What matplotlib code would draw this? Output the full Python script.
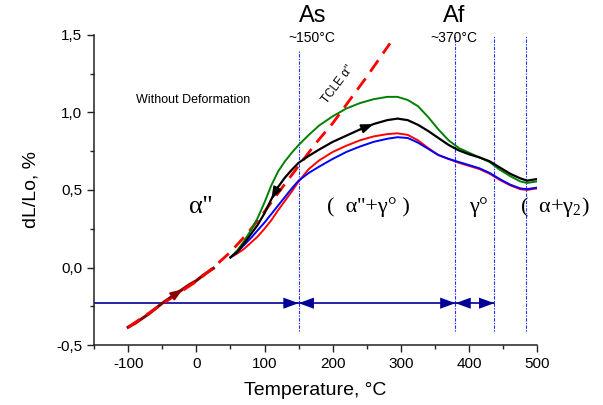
import matplotlib
matplotlib.use("Agg")
import matplotlib.pyplot as plt
from matplotlib.ticker import FixedLocator, MultipleLocator

plt.rcParams['font.family'] = ['Liberation Sans', 'DejaVu Sans']
plt.rcParams['mathtext.fontset'] = 'custom'
plt.rcParams['mathtext.rm'] = 'Liberation Serif'

# ---- dilatometric heating curves (temperature, °C -> dL/Lo, %) ----
temp_heat = [50, 60, 70, 80, 90, 100, 110, 120, 130, 140, 150, 165, 180, 200,
             220, 240, 260, 280, 295, 310, 325, 340, 355, 370, 385, 400, 415,
             430, 445, 460, 475, 485, 492, 500]
green_curve = [0.065, 0.11, 0.17, 0.24, 0.32, 0.42, 0.53, 0.62, 0.685, 0.74, 0.79,
               0.855, 0.915, 0.975, 1.025, 1.06, 1.085, 1.10, 1.10, 1.08, 1.04, 0.97,
               0.89, 0.82, 0.77, 0.74, 0.71, 0.68, 0.63, 0.59, 0.555, 0.545,
               0.55, 0.555]
black_curve = [0.065, 0.10, 0.155, 0.215, 0.275, 0.35, 0.44, 0.52, 0.58, 0.63, 0.675,
               0.72, 0.76, 0.81, 0.85, 0.89, 0.925, 0.95, 0.96, 0.95, 0.92, 0.88,
               0.835, 0.79, 0.755, 0.73, 0.71, 0.685, 0.645, 0.605, 0.575, 0.56,
               0.565, 0.57]
red_curve = [0.065, 0.09, 0.12, 0.16, 0.20, 0.25, 0.305, 0.37, 0.43, 0.49, 0.555,
             0.635, 0.69, 0.745, 0.785, 0.82, 0.845, 0.86, 0.865, 0.855, 0.82, 0.77,
             0.725, 0.70, 0.675, 0.655, 0.635, 0.605, 0.565, 0.53, 0.505, 0.50,
             0.505, 0.51]
blue_curve = [0.065, 0.10, 0.145, 0.19, 0.24, 0.29, 0.345, 0.40, 0.455, 0.51, 0.56,
              0.61, 0.65, 0.70, 0.745, 0.78, 0.81, 0.83, 0.84, 0.835, 0.805, 0.765,
              0.725, 0.70, 0.68, 0.66, 0.64, 0.61, 0.57, 0.535, 0.51, 0.505,
              0.51, 0.515]

# low-temperature segment of the sample
temp_low = [-100, -90, -80, -70, -60, -50, -40, -30, -20, -10, 0, 10, 20, 25]
low_curve = [-0.385, -0.36, -0.33, -0.30, -0.265, -0.23, -0.20, -0.17, -0.14,
             -0.11, -0.085, -0.05, -0.02, -0.005]

# thermal coefficient of linear expansion of alpha''
temp_tcle = [-100, -50, 0, 25, 50, 75, 100, 125, 150, 175, 200, 225, 250, 284]
tcle_line = [-0.385, -0.235, -0.09, 0.0, 0.10, 0.22, 0.36, 0.51, 0.655, 0.80,
             0.93, 1.08, 1.23, 1.445]

# phase boundaries
phase_bounds = [150, 380, 437, 484]
arrow_level = -0.23

x_ticks = [-100, 0, 100, 200, 300, 400, 500]
y_ticks = [-0.5, 0.0, 0.5, 1.0, 1.5]
y_labels = ['-0,5', '0,0', '0,5', '1,0', '1,5']

fig = plt.figure(figsize=(6.03, 4.05), dpi=100)
ax = fig.add_axes([0.156, 0.148, 0.735, 0.766])
ax.set_xlim(-150, 500)
ax.set_ylim(-0.5, 1.5)

# phase boundary lines
for i, xb in enumerate(phase_bounds):
    top = 1.40 if i == 0 else 1.49
    ax.plot([xb, xb], [-0.41, top], color='#2030ff', lw=0.8,
            ls=(0, (1.2, 1.2, 3, 1.2)), zorder=1)

# curves
ax.plot(temp_low, low_curve, color='#8b0000', lw=2.2, zorder=3)
ax.plot(temp_tcle, tcle_line, color='#ff0000', lw=2.0, ls=(0, (5, 3)), zorder=4)
ax.plot(temp_heat, red_curve, color='#ff0000', lw=1.4, zorder=5)
ax.plot(temp_heat, blue_curve, color='#0000ff', lw=1.4, zorder=6)
ax.plot(temp_heat, green_curve, color='#008000', lw=1.4, zorder=5)
ax.plot(temp_heat, black_curve, color='black', lw=1.6, zorder=7)

# direction arrows on curves
def along(xs, ys, i0, i1, color):
    ax.annotate('', xy=(xs[i1], ys[i1]), xytext=(xs[i0], ys[i0]),
                arrowprops=dict(arrowstyle='-|>,head_length=0.75,head_width=0.28',
                                color=color, lw=1.2, shrinkA=0, shrinkB=0),
                zorder=8)

along(temp_heat, black_curve, 15, 16, 'black')
along(temp_heat, black_curve, 7, 6, 'black')
along(temp_low, low_curve, 6, 8, '#8b0000')

# horizontal phase-range arrows
navy = '#000099'
ax.plot([-150, phase_bounds[2]], [arrow_level, arrow_level], color=navy, lw=1.2, zorder=2)
def head(x_from, x_to):
    ax.annotate('', xy=(x_to, arrow_level), xytext=(x_from, arrow_level),
                arrowprops=dict(arrowstyle='-|>,head_length=1.1,head_width=0.4',
                                color=navy, lw=0.01, shrinkA=0, shrinkB=0),
                zorder=3)

head(120, phase_bounds[0])
head(phase_bounds[0] + 30, phase_bounds[0])
head(phase_bounds[1] - 30, phase_bounds[1])
head(phase_bounds[1] + 30, phase_bounds[1])
head(phase_bounds[2] - 30, phase_bounds[2])

# labels
ax.text(-4, 1.081, 'Without Deformation', fontsize=9, ha='center', va='center')
ax.text(170, 1.62, 'As', fontsize=17, ha='center', va='center', clip_on=False)
ax.text(170, 1.48, '~150°C', fontsize=10, ha='center', va='center', clip_on=False)
ax.text(378, 1.62, 'Af', fontsize=17, ha='center', va='center', clip_on=False)
ax.text(378, 1.48, '~370°C', fontsize=10, ha='center', va='center', clip_on=False)
ax.text(208, 1.18, "TCLE α''", fontsize=8.5, rotation=53, ha='center', va='center')

serif = ['Liberation Serif', 'DejaVu Serif']
ax.text(6, 0.39, "α''", fontsize=19, family=serif, ha='center', va='center')
ax.text(252, 0.39, "(  α''+γ° )", fontsize=16, family=serif, ha='center', va='center')
ax.text(414, 0.39, "γ°", fontsize=16, family=serif, ha='center', va='center')
ax.text(526, 0.39, r"(  α+γ$_\mathregular{2}$)", fontsize=16, family=serif,
        ha='center', va='center', clip_on=False)

ax.set_xlabel('Temperature, °C', fontsize=14, labelpad=8)
ax.set_ylabel('dL/Lo, %', fontsize=14, labelpad=12)

# axes styling
for side in ('top', 'right'):
    ax.spines[side].set_visible(False)
for side in ('left', 'bottom'):
    ax.spines[side].set_linewidth(1.1)
    ax.spines[side].set_color('#222222')

ax.xaxis.set_major_locator(FixedLocator(x_ticks))
ax.set_xticklabels([str(t) for t in x_ticks])
ax.xaxis.set_minor_locator(MultipleLocator(50))
ax.yaxis.set_major_locator(FixedLocator(y_ticks))
ax.set_yticklabels(y_labels)
ax.yaxis.set_minor_locator(MultipleLocator(0.25))
ax.tick_params(which='major', direction='out', length=5, width=1.0, labelsize=11,
               color='#222222')
ax.tick_params(which='minor', direction='out', length=3, width=1.0, color='#222222')

fig.savefig('out.png', dpi=100)
